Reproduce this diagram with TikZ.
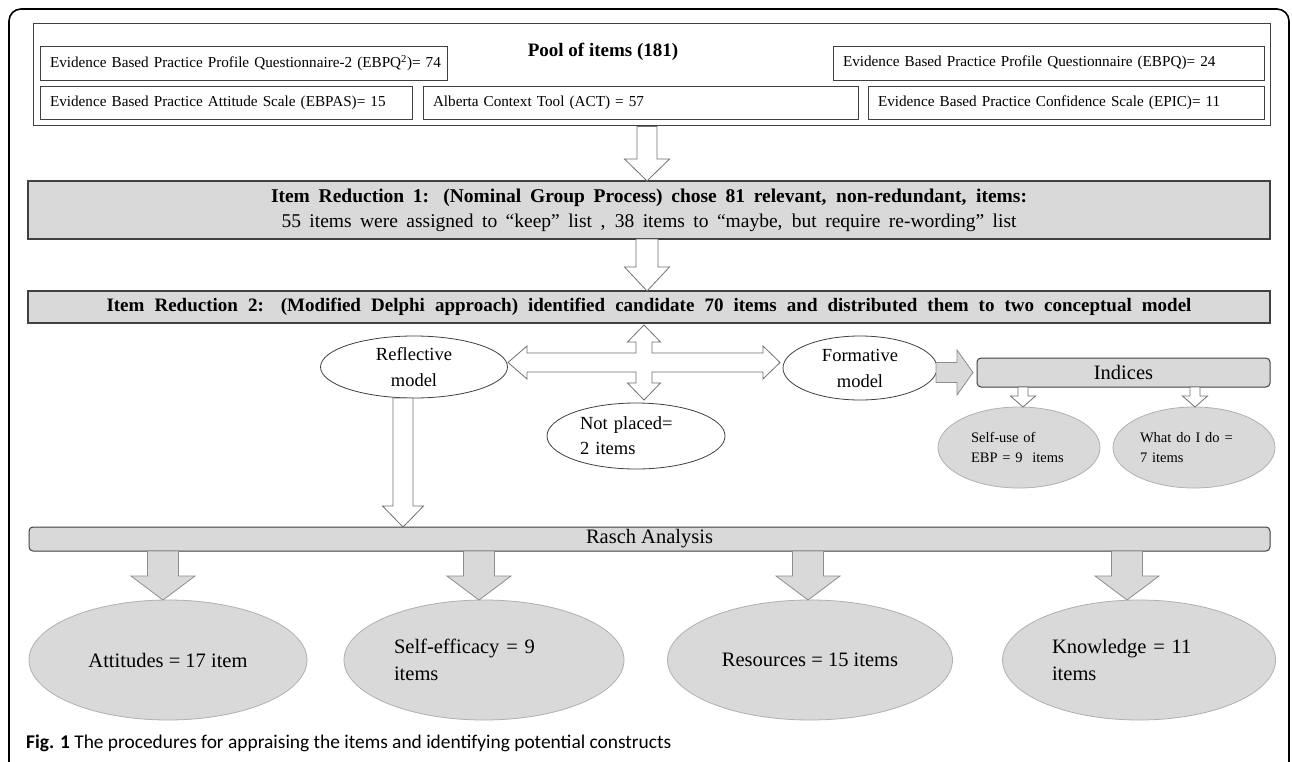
\documentclass[tikz,border=0pt]{standalone}
\usepackage{fontspec}
\setmainfont{Liberation Serif}
\newfontfamily\capfont{Carlito}
\usetikzlibrary{shapes.geometric,calc}
\definecolor{gfill}{HTML}{D9D9D9}
\definecolor{dline}{HTML}{404040}
\definecolor{mline}{HTML}{707070}
\definecolor{lline}{HTML}{B0B0B0}
\newcommand\fsz[2]{\fontsize{#1}{#2}\selectfont}
% vertical block arrow: style, x-coordinate, from point, to point, shaft half, head half, head length
\newcommand\vblock[7]{\draw[#1] let \p3=(#2), \p1=(#3), \p2=(#4) in
  (\x3-#5,\y1) -- (\x3+#5,\y1) -- (\x3+#5,\y2+#7) -- (\x3+#6,\y2+#7) -- (\x3,\y2)
  -- (\x3-#6,\y2+#7) -- (\x3-#5,\y2+#7) -- cycle;}
\tikzset{
  srcbox/.style={draw=dline, line width=0.8pt, fill=white, rectangle, inner xsep=10pt, inner ysep=0pt, outer sep=0pt, align=left, font=\fsz{15.2}{18}},
  irbox/.style={draw=dline, line width=1.3pt, fill=gfill, rectangle, inner sep=0pt, outer sep=0pt, align=center},
  graybar/.style={draw=dline, line width=1pt, fill=gfill, rectangle, rounded corners=4pt, inner sep=0pt, outer sep=0pt, font=\fsz{20.5}{24}},
  wellipse/.style={draw=dline, line width=0.8pt, fill=white, ellipse, inner sep=0pt, outer sep=0pt, align=center, font=\fsz{18.5}{26}},
  gellipse/.style={draw=lline, line width=0.8pt, fill=gfill, ellipse, inner sep=0pt, outer sep=0pt, align=left},
  warrow/.style={draw=mline, line width=0.8pt, fill=white},
  garrow/.style={draw=mline!80, line width=0.8pt, fill=gfill},
}
\begin{document}
\begin{tikzpicture}[x=1pt,y=-1pt]
\useasboundingbox (0,0) rectangle (1292,762);
\clip (0,0) rectangle (1292,762);
\fill[white] (0,0) rectangle (1292,762);
% outer frame
\draw[line width=1.6pt, rounded corners=12pt] (9,9) rectangle (1289,800);

% pool of items
\node[draw=dline, line width=1pt, rectangle, minimum width=1237pt, minimum height=102pt, inner sep=0pt] (pool) at (651.5,75) {};
\node[font=\fsz{19}{22}\bfseries, inner sep=0pt] (pooltitle) at (603,52) {Pool of items (181)};
\node[srcbox, minimum width=407pt, minimum height=34pt, text width=387pt] (ebpq2) at (243.5,63) {\mbox{Evidence Based Practice Profile Questionnaire-2 (EBPQ\textsuperscript{2})= 74}};
\node[srcbox, minimum width=372pt, minimum height=33pt, text width=352pt] (ebpas) at (226,102.5) {\mbox{Evidence Based Practice Attitude Scale (EBPAS)= 15}};
\node[srcbox, minimum width=435pt, minimum height=33pt, text width=415pt] (act) at (640.5,102.5) {\mbox{Alberta Context Tool (ACT) = 57}};
\node[srcbox, minimum width=431pt, minimum height=34pt, text width=411pt] (ebpq) at (1048.5,63) {\mbox{Evidence Based Practice Profile Questionnaire (EBPQ)= 24}};
\node[srcbox, minimum width=396pt, minimum height=33pt, text width=376pt] (epic) at (1066,102.5) {\mbox{Evidence Based Practice Confidence Scale (EPIC)= 11}};

% item reduction boxes
\node[irbox, minimum width=1242pt, minimum height=58pt, font=\fsz{19.5}{25}] (ir1) at (649,210) {{\bfseries\makebox[756pt][s]{Item Reduction 1: (Nominal Group Process) chose 81 relevant, non-redundant, items:}}\\ \makebox[735pt][s]{55 items were assigned to “keep” list , 38 items to “maybe, but require re-wording” list}};
\node[irbox, minimum width=1242pt, minimum height=32pt, font=\fsz{19}{22}\bfseries] (ir2) at (649,307) {\makebox[1085pt][s]{Item Reduction 2: (Modified Delphi approach) identified candidate 70 items and distributed them to two conceptual model}};

\coordinate (ax) at (647,0);
\vblock{warrow}{ax}{pool.south}{ir1.north}{10pt}{22.5pt}{22pt}
\vblock{warrow}{ax}{ir1.south}{ir2.north}{11pt}{22.5pt}{24pt}

% models
\node[wellipse, minimum width=187pt, minimum height=62pt] (refl) at (414,367) {Reflective\\model};
\node[wellipse, minimum width=154pt, minimum height=64pt] (form) at (860,368) {Formative\\model};
\node[wellipse, minimum width=178pt, minimum height=66pt, text width=112pt, align=left, font=\fsz{18.5}{25}] (np) at (636,436) {Not placed=\\2 items};

% cross arrow
\coordinate (cx) at (644,362.5);
\draw[warrow, shift={(cx)}] (0,-37.5) -- (16.5,-20.5) -- (8,-20.5) -- (8,-9.5) -- (119,-9.5) -- (119,-16.5) -- (136,0) -- (119,16.5) -- (119,9.5) -- (8,9.5) -- (8,20.5) -- (16.5,20.5) -- (0,37.5) -- (-16.5,20.5) -- (-8,20.5) -- (-8,9.5) -- (-117,9.5) -- (-117,16.5) -- (-136,0) -- (-117,-16.5) -- (-117,-9.5) -- (-8,-9.5) -- (-8,-20.5) -- (-16.5,-20.5) -- cycle;

% indices
\node[graybar, minimum width=293pt, minimum height=29pt] (ind) at (1123.5,372.5) {Indices};
\draw[garrow] let \p1=(form.east), \p2=(ind.west) in
  (\x1-1pt,\y2+10pt) -- (\x2-20pt,\y2+10pt) -- (\x2-20pt,\y2+22.5pt) -- (\x2-4pt,\y2) -- (\x2-20pt,\y2-22.5pt) -- (\x2-20pt,\y2-10pt) -- (\x1-1pt,\y2-10pt) -- cycle;
\node[gellipse, minimum width=162pt, minimum height=81pt, text width=96pt, font=\fsz{14.5}{19.5}] (selfuse) at (1019,447.5) {Self-use of\\EBP = 9\ \ items};
\node[gellipse, minimum width=162pt, minimum height=81pt, text width=108pt, font=\fsz{14.5}{19.5}] (whatdo) at (1194,447.5) {What do I do =\\7 items};
\coordinate (ix1) at (1023,0);
\coordinate (ix2) at (1195,0);
\vblock{warrow}{ix1}{ind.south}{selfuse.north}{5pt}{12.5pt}{11pt}
\vblock{warrow}{ix2}{ind.south}{whatdo.north}{5pt}{12.5pt}{11pt}

% rasch
\node[graybar, minimum width=1241pt, minimum height=24pt] (rasch) at (649.5,539) {Rasch Analysis};
\coordinate (rx) at (403,0);
\vblock{warrow}{rx}{refl.south}{rasch.north}{10pt}{20.5pt}{21pt}

% constructs
\node[gellipse, minimum width=278pt, minimum height=120pt, align=center, font=\fsz{20.5}{27}] (att) at (168,660) {Attitudes = 17 item};
\node[gellipse, minimum width=280pt, minimum height=120pt, text width=180pt, font=\fsz{20.5}{27}] (seff) at (484,660) {Self-efficacy = 9\\items};
\node[gellipse, minimum width=285pt, minimum height=120pt, align=center, font=\fsz{20.5}{27}] (res) at (810,660) {Resources = 15 items};
\node[gellipse, minimum width=273pt, minimum height=120pt, text width=174pt, font=\fsz{20.5}{27}] (know) at (1139,660) {Knowledge = 11\\items};

\coordinate (g1) at (163,0);
\coordinate (g2) at (479,0);
\coordinate (g3) at (808,0);
\coordinate (g4) at (1127,0);
\vblock{garrow}{g1}{rasch.south}{att.north}{15.5pt}{32pt}{24pt}
\vblock{garrow}{g2}{rasch.south}{seff.north}{15.5pt}{32pt}{24pt}
\vblock{garrow}{g3}{rasch.south}{res.north}{15.5pt}{32pt}{24pt}
\vblock{garrow}{g4}{rasch.south}{know.north}{15.5pt}{32pt}{24pt}

% caption
\node[anchor=west, inner sep=0pt, font=\capfont\fsz{19.4}{24}] (cap) at (26,743) {\textbf{Fig. 1} The procedures for appraising the items and identifying potential constructs};
\end{tikzpicture}
\end{document}
